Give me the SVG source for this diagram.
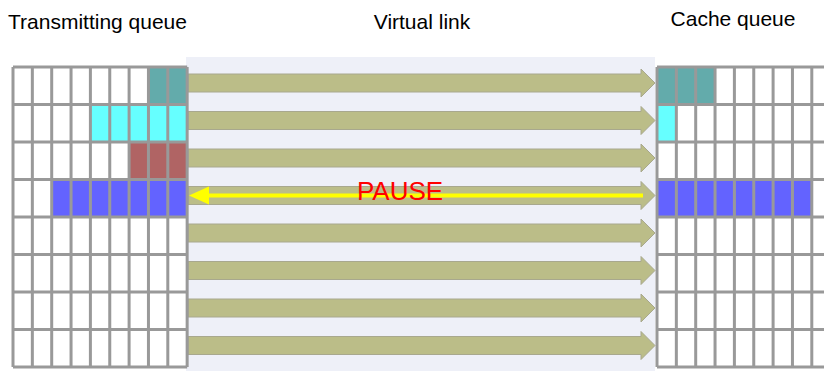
<svg xmlns="http://www.w3.org/2000/svg" xmlns:xlink="http://www.w3.org/1999/xlink" width="824" height="371" viewBox="0 0 824 371">
  <style>
    .title { font-family: "Liberation Sans", Arial, sans-serif; font-size: 21px; fill: #000; }
    .pause { font-family: "Liberation Sans", Arial, sans-serif; font-size: 26px; fill: #FF0000; }
    .grid { fill: none; stroke: #999999; stroke-width: 3; }
    .teal { fill: #63ABAB; }
    .cyan { fill: #66FFFF; }
    .brown { fill: #B06464; }
    .blue { fill: #6363FF; }
    .flow { fill: #BBBD88; stroke: #A8A88E; stroke-width: 1; }
  </style>
  <defs>
    <path id="fwd" d="M0,-9 H453 V-14 L467,0 L453,14 V9 H0 Z"/>
  </defs>
  <rect width="824" height="371" fill="#FFFFFF"/>

  <g id="titles">
    <text class="title" x="8" y="29">Transmitting queue</text>
    <text class="title" x="422" y="29" text-anchor="middle">Virtual link</text>
    <text class="title" x="733" y="26" text-anchor="middle">Cache queue</text>
  </g>

  <g id="virtual-link">
    <rect x="186" y="57" width="469" height="314" fill="#EEF0F8"/>
  </g>

  <g id="connectors">
    <use href="#fwd" class="flow" transform="translate(188,83)"/>
    <use href="#fwd" class="flow" transform="translate(188,120.5)"/>
    <use href="#fwd" class="flow" transform="translate(188,158)"/>
    <use href="#fwd" class="flow" transform="translate(188,195.5)"/>
    <use href="#fwd" class="flow" transform="translate(188,233)"/>
    <use href="#fwd" class="flow" transform="translate(188,270.5)"/>
    <use href="#fwd" class="flow" transform="translate(188,308)"/>
    <use href="#fwd" class="flow" transform="translate(188,345.5)"/>
    <g id="pause-arrow">
      <line x1="206" y1="195.5" x2="643" y2="195.5" stroke="#FFFF00" stroke-width="4"/>
      <polygon points="189,195.5 209,186.5 209,204.5" fill="#FFFF00"/>
    </g>
  </g>

  <g id="pause-label">
    <text class="pause" x="400" y="200" text-anchor="middle">PAUSE</text>
  </g>

  <g id="transmit-queue">
    <rect x="13" y="67" width="174.15" height="300" fill="#FFFFFF"/>
    <rect class="teal" x="148.45" y="67" width="38.7" height="37.5"/>
    <rect class="cyan" x="90.4" y="104.5" width="96.75" height="37.5"/>
    <rect class="brown" x="129.1" y="142" width="58.05" height="37.5"/>
    <rect class="blue" x="51.7" y="179.5" width="135.45" height="37.5"/>
    <path class="grid" d="M13,67 V367 M32.35,67 V367 M51.7,67 V367 M71.05,67 V367 M90.4,67 V367 M109.75,67 V367 M129.1,67 V367 M148.45,67 V367 M167.8,67 V367 M187.15,67 V367
      M13,67 H187.15 M13,104.5 H187.15 M13,142 H187.15 M13,179.5 H187.15 M13,217 H187.15 M13,254.5 H187.15 M13,292 H187.15 M13,329.5 H187.15 M13,367 H187.15"/>
  </g>

  <g id="cache-queue">
    <rect x="657" y="67" width="174" height="300" fill="#FFFFFF"/>
    <rect class="teal" x="657" y="67" width="58.05" height="37.5"/>
    <rect class="cyan" x="657" y="104.5" width="19.35" height="37.5"/>
    <rect class="blue" x="657" y="179.5" width="154.8" height="37.5"/>
    <path class="grid" d="M657,67 V367 M676.35,67 V367 M695.7,67 V367 M715.05,67 V367 M734.4,67 V367 M753.75,67 V367 M773.1,67 V367 M792.45,67 V367 M811.8,67 V367 M831.15,67 V367
      M657,67 H831.15 M657,104.5 H831.15 M657,142 H831.15 M657,179.5 H831.15 M657,217 H831.15 M657,254.5 H831.15 M657,292 H831.15 M657,329.5 H831.15 M657,367 H831.15"/>
  </g>
</svg>
